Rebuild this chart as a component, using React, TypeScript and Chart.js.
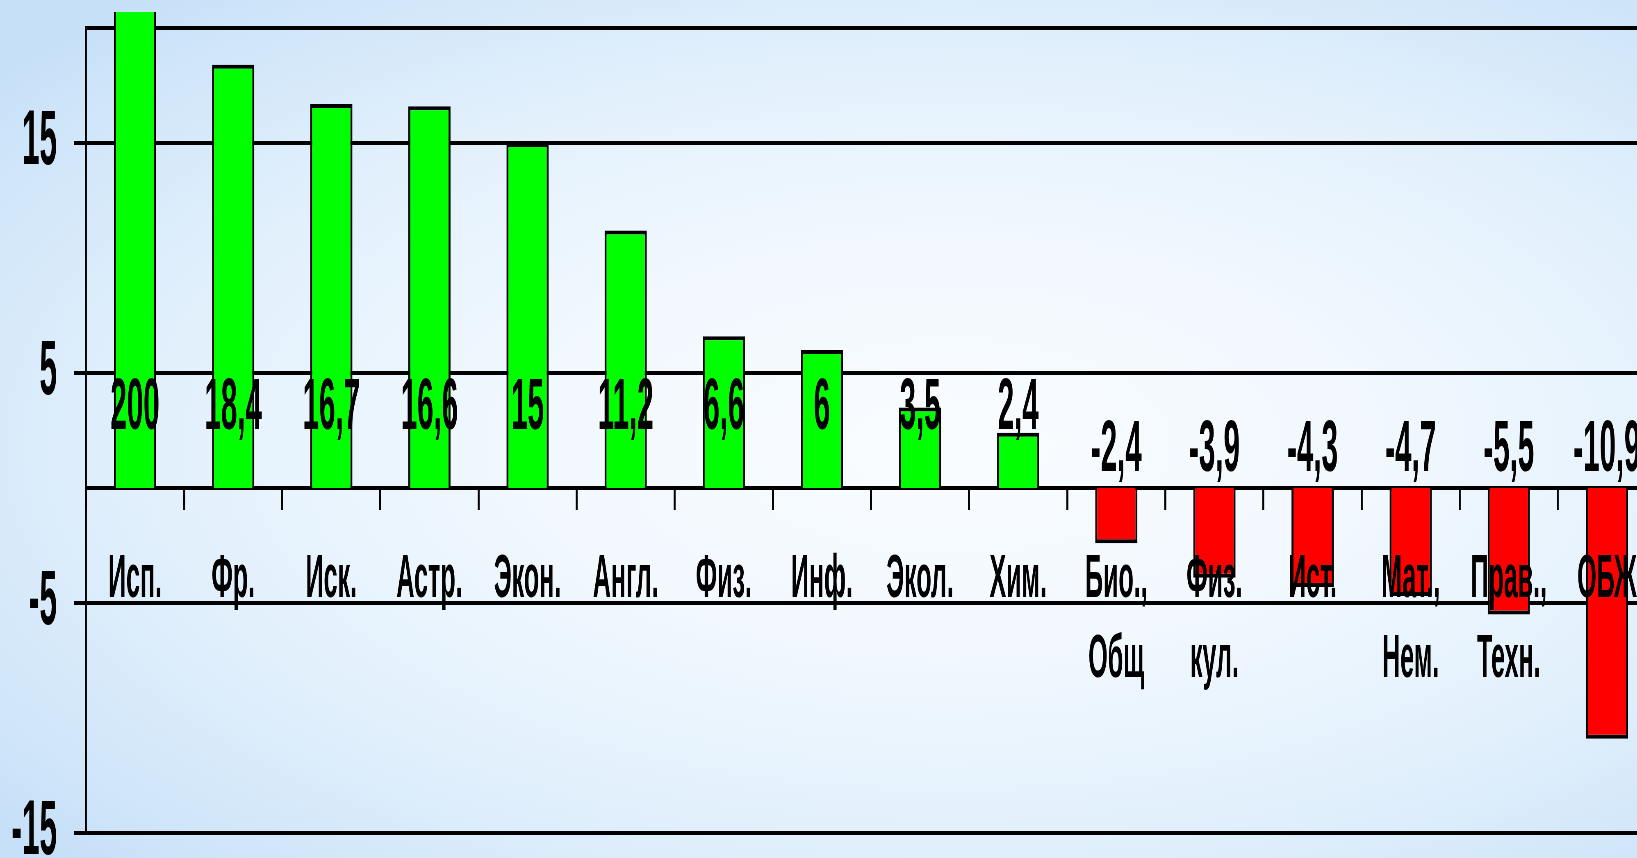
import React, { useEffect, useRef } from "react";
import { Chart, registerables } from "chart.js";

Chart.register(...registerables);

// ---- data ----
const categories: string[][] = [
  ["Исп."], ["Фр."], ["Иск."], ["Астр."], ["Экон."], ["Англ."], ["Физ."], ["Инф."],
  ["Экол."], ["Хим."], ["Био.,", "Общ"], ["Физ.", "кул."], ["Ист."], ["Мат.,", "Нем."],
  ["Прав.,", "Техн."], ["ОБЖ"],
];
const values: number[] = [200, 18.4, 16.7, 16.6, 15, 11.2, 6.6, 6, 3.5, 2.4, -2.4, -3.9, -4.3, -4.7, -5.5, -10.9];
const yTicks: number[] = [-15, -5, 5, 15, 20];
const Y_MIN = -15;
const Y_MAX = 20;
const HIDDEN_TICK = 20;

// ---- style ----
const SX = 0.41; // horizontal squeeze of the picture
const CSS_W = 1660;
const CSS_H = 858;
const VLINE = 2 / SX; // canvas width giving ~2 css px for vertical strokes
const FONT = "'Liberation Sans', Arial, sans-serif";
const POS_COLOR = "#00FF00";
const NEG_COLOR = "#FF0000";
const POS_LABEL_AT = 3.45;
const NEG_LABEL_AT = 1.6;

const dataLabels = {
  id: "dataLabels",
  afterDatasetsDraw(chart: any) {
    const ctx = chart.ctx;
    const yScale = chart.scales.y;
    const meta = chart.getDatasetMeta(0);
    ctx.save();
    ctx.font = `bold 72px ${FONT}`;
    ctx.fillStyle = "#000";
    ctx.textAlign = "center";
    ctx.textBaseline = "middle";
    meta.data.forEach((bar: any, i: number) => {
      const v = values[i];
      const y = yScale.getPixelForValue(v >= 0 ? POS_LABEL_AT : NEG_LABEL_AT);
      ctx.fillText(String(v).replace(".", ","), bar.x, y);
    });
    ctx.restore();
  },
};

export default function App() {
  const ref = useRef<HTMLCanvasElement | null>(null);

  useEffect(() => {
    const canvas = ref.current!;
    const chart = new Chart(canvas, {
      type: "bar",
      data: {
        labels: categories,
        datasets: [
          {
            data: values,
            backgroundColor: values.map((v) => (v >= 0 ? POS_COLOR : NEG_COLOR)),
            borderColor: "#000",
            borderWidth: { left: VLINE, right: VLINE, top: 4, bottom: 4 } as any,
            barPercentage: 0.43,
            categoryPercentage: 1,
            clip: { top: 16, left: 0, right: 0, bottom: 0 } as any,
          },
        ],
      },
      options: {
        animation: false,
        responsive: false,
        devicePixelRatio: 1,
        events: [],
        layout: { padding: { left: 0, right: 4 / SX, top: 28, bottom: 25 } },
        plugins: { legend: { display: false }, tooltip: { enabled: false }, title: { display: false } },
        scales: {
          x: {
            position: { y: 0 } as any,
            grid: {
              offset: true,
              drawOnChartArea: false,
              drawTicks: true,
              tickLength: 20,
              color: "#000",
              lineWidth: VLINE,
            },
            border: { display: true, color: "#000", width: 4 },
            ticks: {
              autoSkip: false,
              maxRotation: 0,
              minRotation: 0,
              padding: 32,
              color: "#000",
              z: 1,
              font: { family: FONT, size: 61, weight: "bold", lineHeight: 1.31 },
            },
            afterFit(scale: any) {
              scale.paddingLeft = 0;
              scale.paddingRight = 0;
            },
          },
          y: {
            min: Y_MIN,
            max: Y_MAX,
            afterBuildTicks(scale: any) {
              scale.ticks = yTicks.map((v) => ({ value: v }));
            },
            afterFit(scale: any) {
              scale.width = 86 / SX;
              scale.paddingTop = 0;
              scale.paddingBottom = 0;
            },
            grid: {
              color: "#000",
              lineWidth: 4,
              drawTicks: true,
              tickLength: 12 / SX,
              tickColor: (c: any) => (c.tick && c.tick.value === HIDDEN_TICK ? "rgba(0,0,0,0)" : "#000"),
            },
            border: { display: true, color: "#000", width: VLINE },
            ticks: {
              padding: 17 / SX,
              color: "#000",
              font: { family: FONT, size: 77, weight: "bold" },
              callback: (v: any) => (v === HIDDEN_TICK ? "" : String(v)),
            },
          },
        },
      },
      plugins: [dataLabels],
    });
    return () => chart.destroy();
  }, []);

  return (
    <div
      style={{
        position: "fixed",
        left: 0,
        top: 0,
        width: "100vw",
        height: "100vh",
        overflow: "hidden",
        background:
          "radial-gradient(ellipse 75% 70% at 58% 52%, #f9fcff 0%, #f1f8fe 35%, #e2f0fc 65%, #cfe5f9 90%, #c6e0f8 100%)",
      }}
    >
      <canvas
        ref={ref}
        width={Math.round(CSS_W / SX)}
        height={CSS_H}
        style={{ display: "block", width: `${CSS_W}px`, height: `${CSS_H}px` }}
      />
    </div>
  );
}
